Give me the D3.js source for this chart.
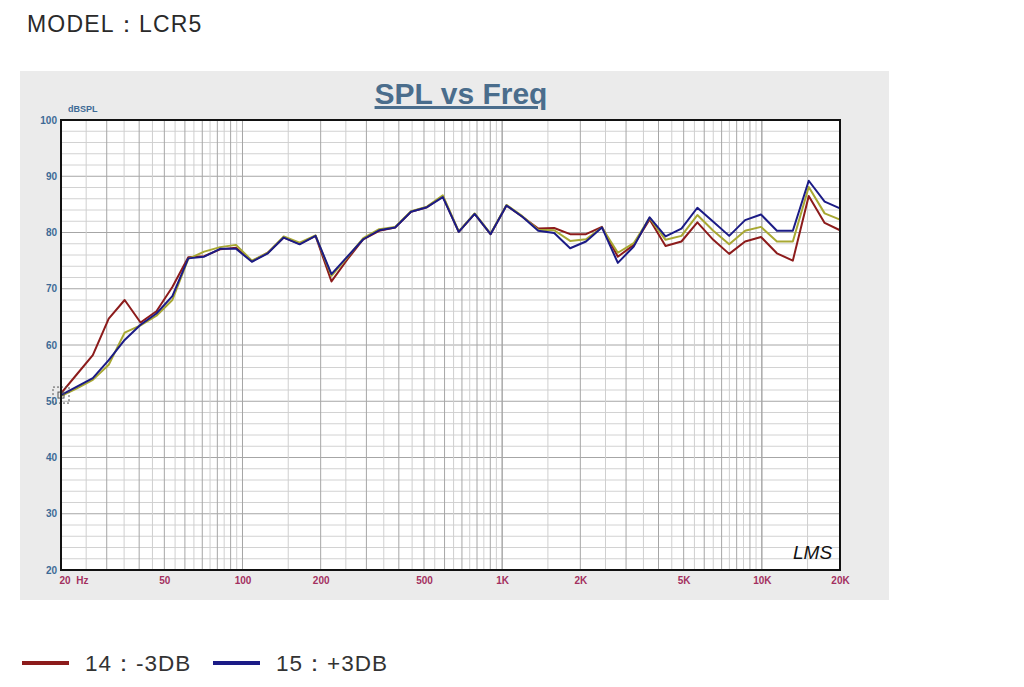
<!DOCTYPE html>
<html>
<head>
<meta charset="utf-8">
<script src="https://cdn.jsdelivr.net/npm/d3@7"></script>
<style>
  body { margin: 0; background: #fff; }
  svg text { font-family: "Liberation Sans", Arial, sans-serif; }
</style>
</head>
<body>
<svg id="chart" width="1024" height="687"></svg>
<script>
// frequency points (Hz), 50 points log spaced as measured
const freqs = [20, 23.03, 26.52, 30.54, 35.17, 40.49, 46.63, 53.69, 61.83, 71.2,
  81.98, 94.4, 108.7, 125.2, 144.1, 166.0, 191.1, 220.1, 253.4, 291.8,
  336.0, 387.0, 445.6, 513.1, 590.8, 680.4, 783.4, 902.1, 1038.8, 1196,
  1377, 1586, 1827, 2103, 2422, 2789, 3211, 3698, 4258, 4903,
  5646, 6502, 7487, 8621, 9927, 11431, 13164, 15158, 17455, 20000];

// 14: -3DB
const splMinus3 = [51.4, 54.8, 58.2, 64.7, 68.0, 64.0, 66.0, 70.3, 75.6, 75.8,
  77.0, 77.3, 74.9, 76.4, 79.1, 78.0, 79.4, 71.3, 75.2, 78.8,
  80.3, 80.9, 83.7, 84.5, 86.4, 80.1, 83.3, 79.7, 84.8, 82.8,
  80.7, 80.8, 79.7, 79.7, 81.0, 75.7, 77.8, 82.3, 77.6, 78.4,
  81.8, 78.7, 76.2, 78.4, 79.2, 76.3, 75.0, 86.5, 81.7, 80.4];

// middle curve (0DB, not in legend)
const splZero = [50.9, 52.3, 53.8, 56.5, 62.2, 63.5, 65.2, 68.0, 75.3, 76.6,
  77.4, 77.8, 75.0, 76.4, 79.3, 78.2, 79.5, 72.3, 75.6, 79.0,
  80.6, 81.0, 83.8, 84.6, 86.6, 80.2, 83.4, 79.8, 84.9, 82.9,
  80.5, 80.4, 78.5, 78.8, 80.9, 76.4, 78.1, 82.6, 78.7, 79.4,
  83.1, 80.3, 77.9, 80.3, 81.0, 78.4, 78.4, 88.1, 83.4, 82.3];

// 15: +3DB
const splPlus3 = [51.1, 52.6, 54.1, 57.3, 60.9, 63.6, 65.6, 68.7, 75.4, 75.7,
  77.1, 77.1, 74.8, 76.3, 79.1, 77.9, 79.4, 72.6, 75.7, 78.8,
  80.4, 80.9, 83.7, 84.5, 86.3, 80.1, 83.3, 79.7, 84.8, 82.8,
  80.3, 79.9, 77.2, 78.4, 80.9, 74.6, 77.5, 82.7, 79.3, 80.7,
  84.4, 81.9, 79.4, 82.2, 83.2, 80.3, 80.3, 89.2, 85.5, 84.3];

const xTickValues = [20, 50, 100, 200, 500, 1000, 2000, 5000, 10000, 20000];
const xTickLabels = ["20  Hz", "50", "100", "200", "500", "1K", "2K", "5K", "10K", "20K"];
const yTickValues = [20, 30, 40, 50, 60, 70, 80, 90, 100];

const series = [
  {name: "14：-3DB", values: splMinus3, color: "#8c1b1b", legend: true},
  {name: "0DB", values: splZero, color: "#a8a832", legend: false},
  {name: "15：+3DB", values: splPlus3, color: "#1b1b86", legend: true}
];

const svg = d3.select("#chart");

// model caption
svg.append("text")
   .attr("x", 27).attr("y", 32)
   .attr("font-size", 23)
   .attr("fill", "#2a2a2a")
   .attr("letter-spacing", 1.2)
   .text("MODEL：LCR5");

// gray panel
svg.append("rect")
   .attr("x", 20).attr("y", 71)
   .attr("width", 869).attr("height", 529)
   .attr("fill", "#ebebeb");

const x = d3.scaleLog().domain([20, 20000]).range([61, 840]);
const y = d3.scaleLinear().domain([20, 100]).range([570, 120]);

// plot area
svg.append("rect")
   .attr("x", 61).attr("y", 120)
   .attr("width", 779).attr("height", 450)
   .attr("fill", "#fff");

// grid lines: every 2 dB, darker every 10
const grid = svg.append("g");
d3.range(22, 100, 2).forEach(v => {
  grid.append("line")
      .attr("x1", 61).attr("x2", 840)
      .attr("y1", y(v)).attr("y2", y(v))
      .attr("stroke", v % 10 === 0 ? "#a6a6a6" : "#d2d2d2")
      .attr("stroke-width", 1);
});

// vertical grid: half steps within each decade
[10, 100, 1000, 10000].forEach(dec => {
  d3.range(2, 21).forEach(k => {
    const f = dec * k / 2;
    if (f <= 20 || f >= 20000) return;
    grid.append("line")
        .attr("x1", x(f)).attr("x2", x(f))
        .attr("y1", 120).attr("y2", 570)
        .attr("stroke", k % 2 === 0 ? "#a6a6a6" : "#cfcfcf")
        .attr("stroke-width", 1);
  });
});

// curves
const line = d3.line()
  .x((d, i) => x(freqs[i]))
  .y(d => y(d));

svg.append("g").selectAll("path")
   .data(series)
   .join("path")
   .attr("d", d => line(d.values))
   .attr("fill", "none")
   .attr("stroke", d => d.color)
   .attr("stroke-width", 2)
   .attr("stroke-linejoin", "round");

// start cursor marker
const mk = svg.append("g")
   .attr("transform", `translate(${x(freqs[0])},${y(splPlus3[0])})`)
   .attr("fill", "none").attr("stroke", "#555").attr("stroke-width", 1);
mk.append("rect").attr("x", -8).attr("y", -8).attr("width", 16).attr("height", 16)
  .attr("stroke-dasharray", "2,2");
mk.append("rect").attr("x", -3).attr("y", -3).attr("width", 6).attr("height", 6);

// border
svg.append("rect")
   .attr("x", 61).attr("y", 120)
   .attr("width", 779).attr("height", 450)
   .attr("fill", "none")
   .attr("stroke", "#111")
   .attr("stroke-width", 2);

// title
svg.append("text")
   .attr("x", 461).attr("y", 104)
   .attr("text-anchor", "middle")
   .attr("font-size", 30)
   .attr("font-weight", "bold")
   .attr("fill", "#4a6d8c")
   .attr("text-decoration", "underline")
   .text("SPL vs Freq");

svg.append("text")
   .attr("x", 68).attr("y", 112)
   .attr("font-size", 9)
   .attr("font-weight", "bold")
   .attr("fill", "#3d6a96")
   .text("dBSPL");

// y axis labels
const yAxis = d3.axisLeft(y).tickValues(yTickValues).tickSize(0).tickPadding(4);
svg.append("g")
   .attr("transform", "translate(61,0)")
   .call(yAxis)
   .call(g => g.select(".domain").remove())
   .call(g => g.selectAll("text")
     .attr("font-size", 10).attr("font-weight", "bold")
     .attr("fill", "#3d6a96").attr("font-family", "Liberation Sans, Arial, sans-serif"));

// x axis labels
const xAxis = d3.axisBottom(x).tickValues(xTickValues).tickSize(0).tickPadding(7)
  .tickFormat((d, i) => xTickLabels[i]);
svg.append("g")
   .attr("transform", "translate(0,570)")
   .call(xAxis)
   .call(g => g.select(".domain").remove())
   .call(g => g.selectAll("text")
     .attr("font-size", 10).attr("font-weight", "bold")
     .attr("fill", "#a3305f").attr("font-family", "Liberation Sans, Arial, sans-serif")
     .style("white-space", "pre"))
   .call(g => g.select(".tick text").attr("text-anchor", "start").attr("dx", -2));

// LMS signature
svg.append("text")
   .attr("x", 793).attr("y", 559)
   .attr("font-size", 19)
   .attr("font-style", "italic")
   .attr("font-family", "DejaVu Serif, serif")
   .attr("fill", "#111")
   .text("LMS");

// legend
const legendItems = series.filter(s => s.legend);
const lg = svg.append("g").selectAll("g")
  .data(legendItems)
  .join("g")
  .attr("transform", (d, i) => `translate(${22 + i * 191},663)`);
lg.append("line")
  .attr("x1", 0).attr("x2", 47)
  .attr("stroke", d => d.color)
  .attr("stroke-width", 4);
lg.append("text")
  .attr("x", 63).attr("y", 8)
  .attr("font-size", 22.5)
  .attr("letter-spacing", 1)
  .attr("fill", "#333")
  .text(d => d.name);
</script>
</body>
</html>
